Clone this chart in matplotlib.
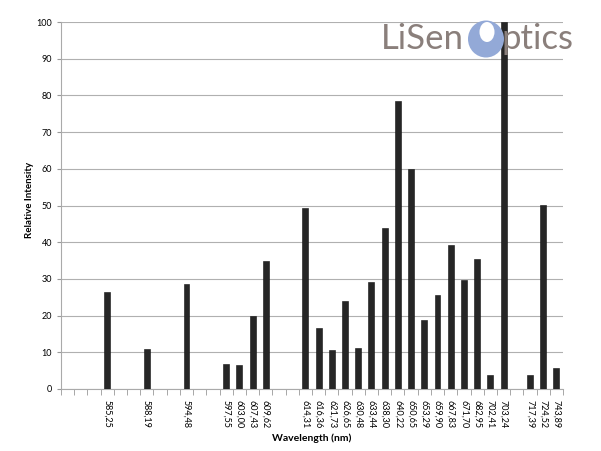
import matplotlib
matplotlib.use('Agg')
import matplotlib.pyplot as plt
from matplotlib.patches import Ellipse

# category slots on the x axis (empty slots have no label)
n_slots = 38
slots = [3, 6, 9, 12, 13, 14, 15, 18, 19, 20, 21, 22, 23, 24, 25, 26, 27,
         28, 29, 30, 31, 32, 33, 35, 36, 37]
labels = ['585,25', '588,19', '594,48', '597,55', '603,00', '607,43', '609,62',
          '614,31', '616,36', '621,73', '626,65', '630,48', '633,44', '638,30',
          '640,22', '650,65', '653,29', '659,90', '667,83', '671,70', '682,95',
          '702,41', '703,24', '717,39', '724,52', '743,89']
intensity = [26.5, 11, 28.6, 6.8, 6.5, 20, 35, 49.3, 16.6, 10.6, 24, 11.2, 29.2,
             43.9, 78.5, 60, 18.8, 25.6, 39.2, 29.7, 35.4, 3.8, 100, 3.9, 50.1, 5.8]

plt.rcParams['font.family'] = ['Lato', 'DejaVu Sans']

W, H = 601, 451
fig = plt.figure(figsize=(W / 100, H / 100), dpi=100)
ax = fig.add_axes([61 / W, 62 / H, 502 / W, 367 / H])

ax.bar(slots, intensity, width=0.45, color='#262626', edgecolor='#111111',
       linewidth=0.4, zorder=3)

ax.set_xlim(-0.5, n_slots - 0.5)
ax.set_ylim(0, 100)
ax.set_yticks(range(0, 101, 10))
ax.grid(axis='y', color='#b0b0b0', linewidth=0.8, zorder=0)

ax.set_xticks(slots)
ax.set_xticklabels(labels, rotation=270, fontsize=6.5)
ax.set_xticks([i - 0.5 for i in range(n_slots + 1)], minor=True)
ax.tick_params(axis='x', which='major', length=0, pad=8)
ax.tick_params(axis='x', which='minor', length=4, color='#999999', direction='out')
ax.tick_params(axis='y', labelsize=6.5, length=3, color='#999999')

for side in ['top', 'right']:
    ax.spines[side].set_visible(False)
ax.spines['left'].set_color('#aaaaaa')
ax.spines['bottom'].set_color('#aaaaaa')

fig.text(312 / W, 1 - 438 / H, 'Wavelength (nm)', fontsize=7.5, fontweight='bold',
         ha='center', va='center')
fig.text(30 / W, 1 - 200 / H, 'Relative Intensity', fontsize=7, fontweight='bold',
         ha='center', va='center', rotation=90)

# logo
logo_gray = '#8a7f7b'
fig.text(381 / W, 1 - 39 / H, 'LiSen', fontsize=25, color=logo_gray,
         va='center', ha='left', zorder=1)
fig.patches.append(Ellipse((486 / W, 1 - 39 / H), 36 / W, 37 / H, transform=fig.transFigure,
                           facecolor='#93a9d7', edgecolor='none', zorder=1))
fig.patches.append(Ellipse((487 / W, 1 - 32 / H), 15 / W, 20 / H, transform=fig.transFigure,
                           facecolor='white', edgecolor='none', zorder=1))
fig.text(502 / W, 1 - 39 / H, 'ptics', fontsize=25, color=logo_gray,
         va='center', ha='left', zorder=1)

fig.savefig('out.png', dpi=100)
